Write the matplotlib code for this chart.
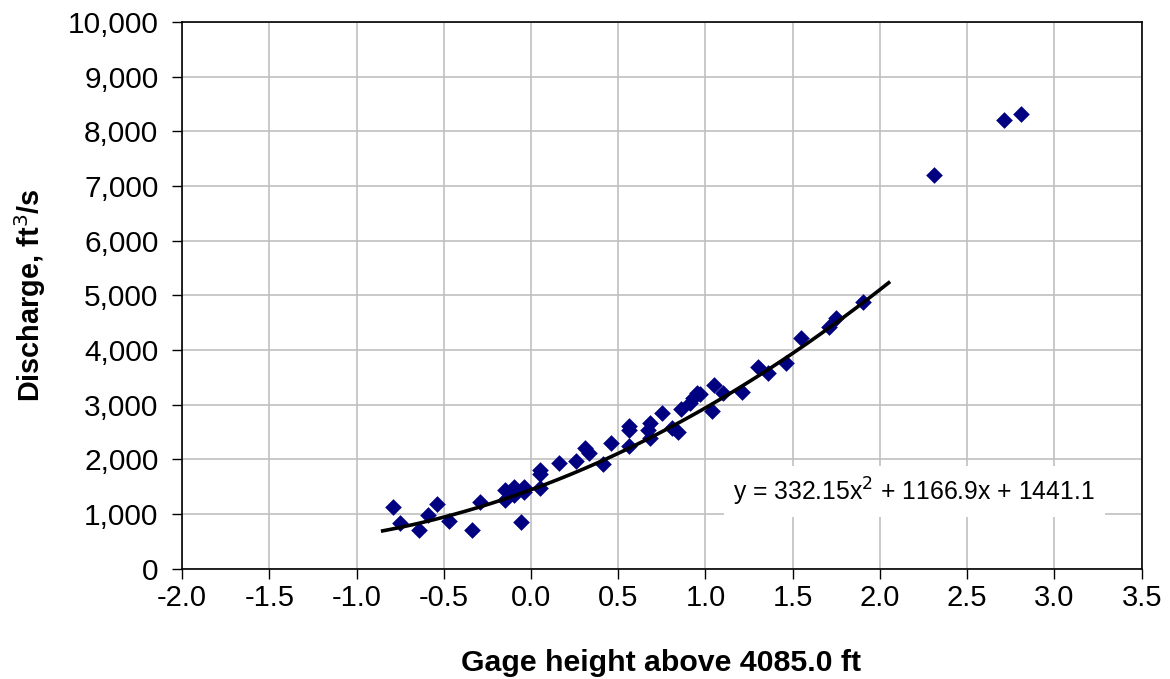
import numpy as np
import matplotlib
matplotlib.use("Agg")
import matplotlib.pyplot as plt
from matplotlib.ticker import FuncFormatter

plt.rcParams['font.family'] = ['Liberation Sans', 'DejaVu Sans']

# measured gage height / discharge pairs
gage = [-0.79, -0.75, -0.64, -0.59, -0.54, -0.47, -0.34, -0.29, -0.15, -0.15,
        -0.10, -0.10, -0.04, -0.04, -0.06, 0.05, 0.05, 0.05, 0.16, 0.26,
        0.31, 0.33, 0.41, 0.46, 0.56, 0.56, 0.56, 0.67, 0.68, 0.68,
        0.75, 0.81, 0.84, 0.86, 0.91, 0.93, 0.95, 0.97, 1.05, 1.04,
        1.10, 1.21, 1.30, 1.36, 1.46, 1.55, 1.71, 1.75, 1.90, 2.31,
        2.71, 2.81]
discharge = [1130, 830, 705, 980, 1175, 870, 705, 1210, 1440, 1255,
             1495, 1345, 1495, 1395, 855, 1470, 1800, 1725, 1930, 1960,
             2200, 2120, 1910, 2290, 2600, 2540, 2245, 2540, 2660, 2385,
             2840, 2570, 2505, 2915, 3025, 3115, 3220, 3195, 3360, 2890,
             3210, 3230, 3685, 3575, 3760, 4215, 4420, 4580, 4885, 7205,
             8215, 8325]

# trendline as printed on the chart
coef = [332.15, 1166.9, 1441.1]
fit_range = [-0.85, 2.05]
eq_text = "y = 332.15x$^2$ + 1166.9x + 1441.1"

fig = plt.figure(figsize=(11.7, 6.79), dpi=100)
ax = fig.add_axes([0.1556, 0.1627, 0.8202, 0.8049])

ax.scatter(gage, discharge, marker='D', s=72, color='#000080', zorder=3, linewidths=0)

xf = np.linspace(fit_range[0], fit_range[1], 100)
ax.plot(xf, np.polyval(coef, xf), color='black', lw=2.6, zorder=4)

ax.set_xlim(-2.0, 3.5)
ax.set_ylim(0, 10000)
ax.set_xticks(np.arange(-2.0, 3.51, 0.5))
ax.set_yticks(np.arange(0, 10001, 1000))
ax.xaxis.set_major_formatter(FuncFormatter(lambda v, p: f"{v:.1f}"))
ax.yaxis.set_major_formatter(FuncFormatter(lambda v, p: f"{int(v):,}"))
ax.tick_params(axis='x', labelsize=21, direction='out', length=7, width=1, pad=4)
ax.tick_params(axis='y', labelsize=21.5, direction='out', length=7, width=1, pad=10)
ax.grid(True, color='#c0c0c0', lw=1.2, zorder=0)
ax.set_axisbelow(True)
for s in ax.spines.values():
    s.set_color('black')
    s.set_linewidth(1.2)

# axis titles placed directly on the figure
fig.text(661 / 1170, 1 - 663 / 679, "Gage height above 4085.0 ft",
         fontsize=21.8, fontweight='bold', ha='center', va='center')
fig.text(30 / 1170, 1 - 295 / 679, "Discharge, ft$^3$/s", rotation=90,
         fontsize=20.8, fontweight='bold', ha='center', va='center')

ax.text(2.196, 1407, eq_text, fontsize=17.8, ha='center', va='center', zorder=5,
        bbox=dict(facecolor='white', edgecolor='none', pad=7))

fig.savefig("out.png", dpi=100)
